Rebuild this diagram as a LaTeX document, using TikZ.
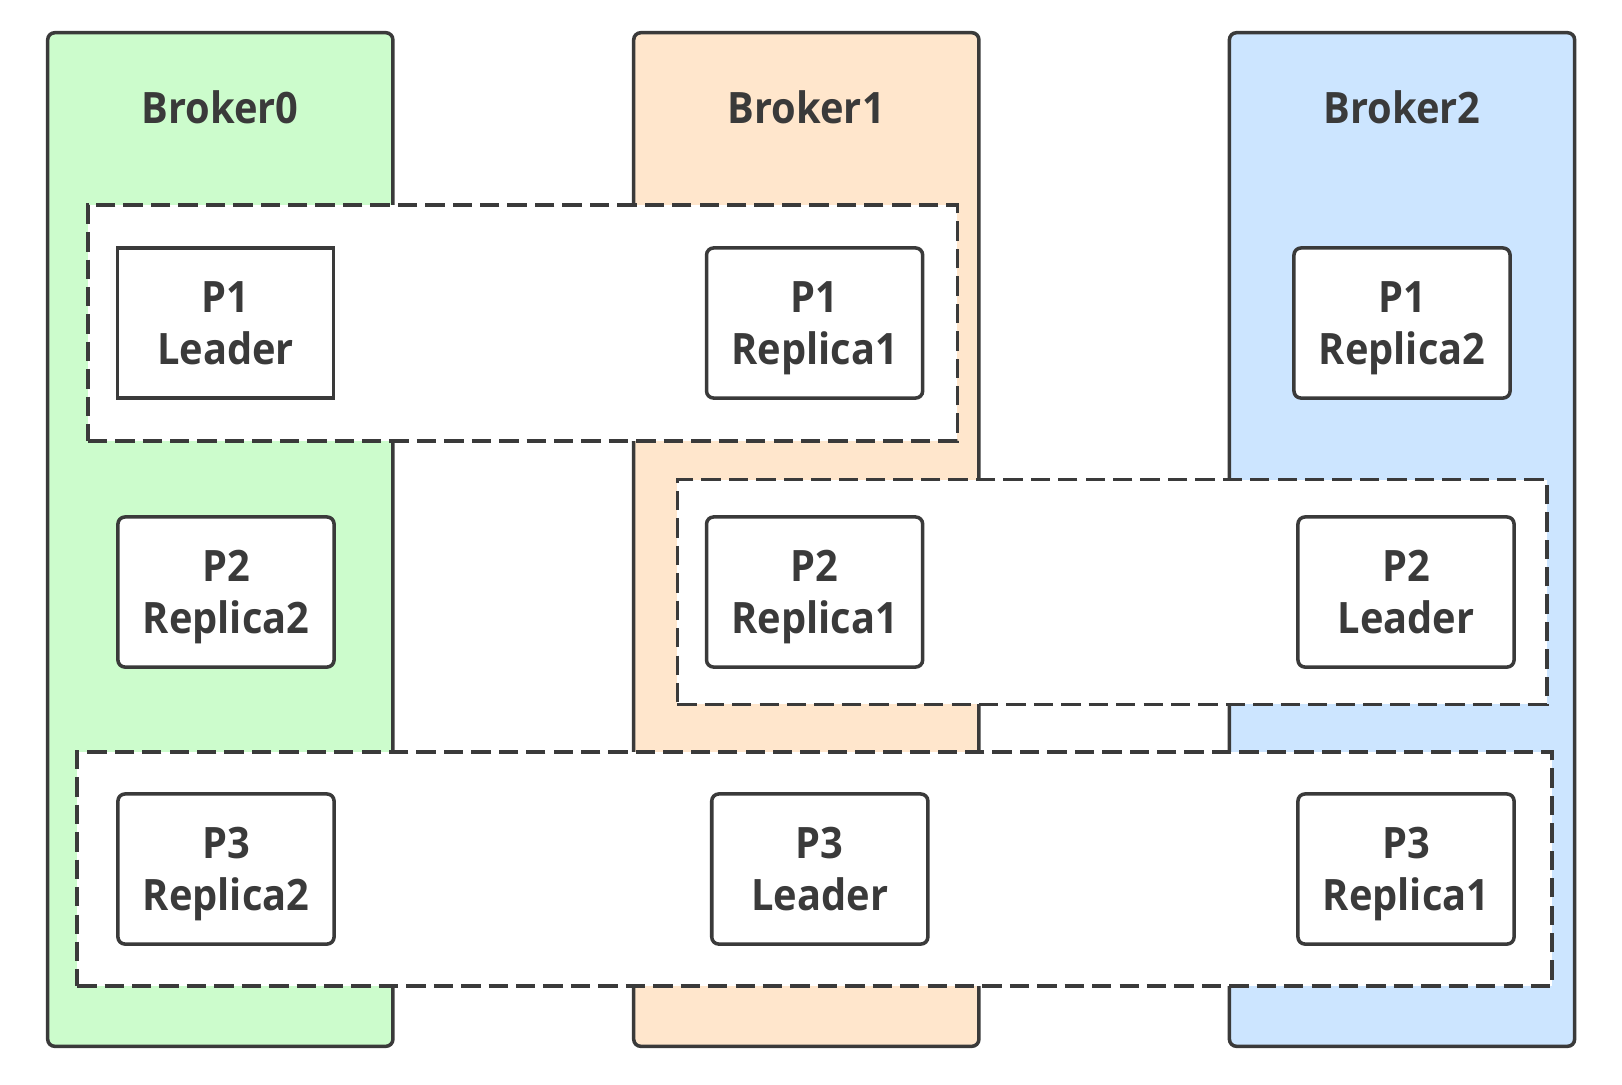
\documentclass[tikz,border=0pt]{standalone}
\usepackage{fontspec}
\setmainfont{Open Sans}[FakeStretch=0.92]
\usepackage{xcolor}
\usetikzlibrary{positioning}
\definecolor{edge}{HTML}{3A3A3A}
\definecolor{greenbg}{HTML}{CCFCCC}
\definecolor{orangebg}{HTML}{FFE6CC}
\definecolor{bluebg}{HTML}{CCE5FF}

\begin{document}
\begin{tikzpicture}[x=0.01cm, y=-0.01cm]
		\tikzstyle{every node}=[font=\fontsize{12.3}{14.7}\selectfont\bfseries, text=edge]
		\tikzstyle{broker}=[draw=edge, line width=1pt, rounded corners=2pt, minimum width=3.45cm, minimum height=10.13cm, inner sep=0pt]
		\tikzstyle{group}=[draw=edge, line width=1pt, fill=white, dash pattern=on 5.5pt off 2.3pt, inner sep=0pt]
		\tikzstyle{part}=[draw=edge, line width=1pt, fill=white, rounded corners=2pt, minimum width=2.16cm, minimum height=1.5cm, align=center, inner sep=0pt, text depth=0pt]
		\useasboundingbox (0,0) rectangle (1622,1084);
		% brokers
		\node [broker, fill=greenbg] (b0) at (220.3,539.5) {};
		\node [broker, fill=orangebg] (b1) at (806.3,539.5) {};
		\node [broker, fill=bluebg] (b2) at (1402,539.5) {};
		\node (b0label) at (220.3,107.6) {Broker0};
		\node (b1label) at (806.3,107.6) {Broker1};
		\node (b2label) at (1402,107.6) {Broker2};
		% partition groups
		\node [group, minimum width=8.69cm, minimum height=2.36cm] (g1) at (522.5,323) {};
		\node [group, minimum width=8.69cm, minimum height=2.245cm] (g2) at (1112,592) {};
		\node [group, minimum width=14.74cm, minimum height=2.34cm] (g3) at (814.6,869) {};
		% partitions
		\node [part, rounded corners=0pt] (p1lead) at (225.5,323) {P1\\Leader};
		\node [part] (p1rep1) at (814.6,323) {P1\\Replica1};
		\node [part] (p1rep2) at (1402,323) {P1\\Replica2};
		\node [part] (p2rep2) at (226,592) {P2\\Replica2};
		\node [part] (p2rep1) at (814.6,592) {P2\\Replica1};
		\node [part] (p2lead) at (1406,592) {P2\\Leader};
		\node [part] (p3rep2) at (226,869) {P3\\Replica2};
		\node [part] (p3lead) at (819.8,869) {P3\\Leader};
		\node [part] (p3rep1) at (1406,869) {P3\\Replica1};
		\end{tikzpicture}
\end{document}
